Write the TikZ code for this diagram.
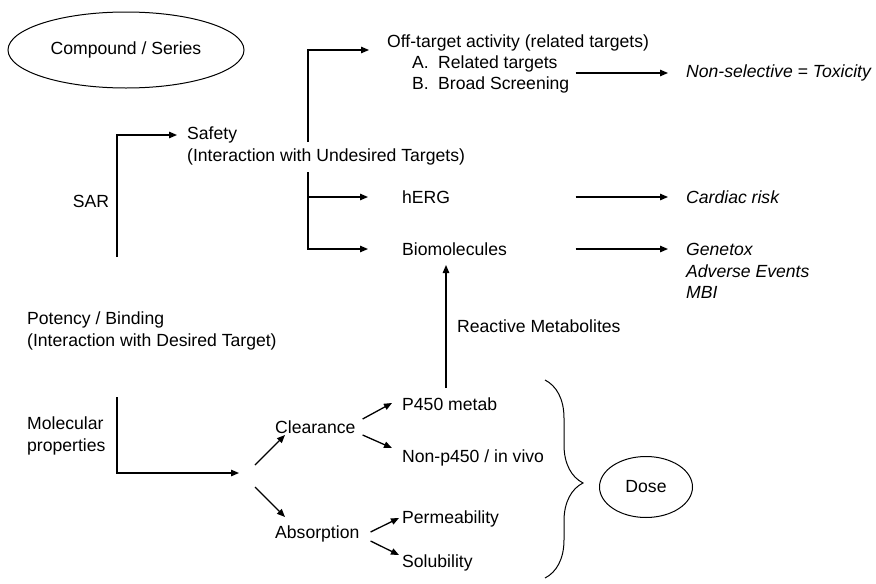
\documentclass[tikz,border=0pt]{standalone}
\usepackage{fontspec}
\setmainfont{Liberation Sans}
\usepackage{tikz}
\usetikzlibrary{arrows.meta,positioning,calc,shapes.geometric,decorations.pathreplacing}
\newcommand{\diagfont}{\fontsize{17.6}{21.5}\selectfont}

\begin{document}
\begin{tikzpicture}[
  x=1pt, y=-1pt,
  lbl/.style={anchor=west, inner sep=0pt, align=left, font=\diagfont},
  eff/.style={lbl, font=\diagfont\itshape},
  ov/.style={draw, ellipse, line width=1pt, inner sep=0pt, font=\diagfont},
  arr/.style={-{Triangle[length=8pt,width=6.5pt]}, line width=1.3pt},
  brc/.style={decorate, decoration={brace, amplitude=38pt, aspect=0.52}, line width=1pt}
]
  \useasboundingbox (0,0) rectangle (876,584);

  % top half: SAR -> safety
  \node[ov, minimum width=236pt, minimum height=76pt] (cmpd) at (126,50) {Compound / Series};
  \node[lbl] (safety) at (187,135) {Safety};
  \node[lbl] (undes) at (187,157) {(Interaction with Undesired Targets)};
  \node[lbl, anchor=center] (sar) at (91,201) {SAR};
  \node[lbl] (offt) at (387,43) {Off-target activity (related targets)};
  \node[lbl] (offlist) at (412,74.5) {\makebox[26pt][l]{A.}Related targets\\\makebox[26pt][l]{B.}Broad Screening};
  \node[lbl] (herg) at (402,197) {hERG};
  \node[lbl] (biomol) at (402,249) {Biomolecules};
  \node[eff] (tox) at (686,73) {Non-selective = Toxicity};
  \node[eff] (cardiac) at (686,197) {Cardiac risk};
  \node[eff] (events) at (686,271) {Genetox\\Adverse Events\\MBI};
  \node[lbl] (potency) at (27,331) {Potency / Binding\\(Interaction with Desired Target)};
  \node[lbl] (react) at (457,326) {Reactive Metabolites};

  % bottom half: properties -> dose
  \node[lbl] (molprop) at (27,436) {Molecular\\properties};
  \node[lbl] (clear) at (275,427) {Clearance};
  \node[lbl] (absorb) at (275,534) {Absorption};
  \node[lbl] (p450) at (402,404) {P450 metab};
  \node[lbl] (nonp) at (402,458) {Non-p450 / in vivo};
  \node[lbl] (perm) at (402,519) {Permeability};
  \node[lbl] (solub) at (402,563) {Solubility};
  \node[ov, minimum width=93pt, minimum height=61pt] (dose) at (646,487) {Dose};

  \coordinate (sarbot) at (117,257);
  \coordinate (tr1) at (308,142);
  \coordinate (tr2) at (308,172);
  \coordinate (moltop) at (117,397);
  \coordinate (split) at (250,476);
  \coordinate (brtop) at (545,380);
  \coordinate (brbot) at (545,578);

  \draw[arr] (sarbot) |- ([xshift=-10pt]safety.west);
  \draw[arr] (tr1) |- ($(offt.west)+(-18,7)$);
  \draw[arr] (tr2) |- ($(biomol.west)+(-34,0)$);
  \draw[arr] (tr2 |- herg.west) -- ($(herg.west)+(-34,0)$);
  \draw[arr] ($(tox.west -| offlist.east)+(6,0)$) -- ($(tox.west)+(-18,0)$);
  \draw[arr] ($(cardiac.west -| offlist.east)+(6,0)$) -- ($(cardiac.west)+(-18,0)$);
  \draw[arr] ($(biomol.west -| offlist.east)+(6,0)$) -- ($(biomol.west -| events.west)+(-18,0)$);
  \draw[arr] ($(p450.west)+(44,-16)$) -- ($(biomol.west)+(44,16)$);

  \draw[arr] (moltop) |- ($(split)+(-11,-3)$);
  \draw[arr] ($(split)+(5,-11)$) -- ($(clear.west)+(10,8)$);
  \draw[arr] ($(split)+(5,11)$) -- ($(absorb.west)+(10,-17)$);
  \draw[arr] ($(clear.east)+(7,-8)$) -- ($(p450.west)+(-10,-1)$);
  \draw[arr] ($(clear.east)+(7,8)$) -- ($(nonp.west)+(-10,-10)$);
  \draw[arr] ($(absorb.east)+(11,-2)$) -- ($(perm.west)+(-3,-1)$);
  \draw[arr] ($(absorb.east)+(11,7)$) -- ($(solub.west)+(-3,-8)$);

  \draw[brc] (brtop) -- (brbot);
\end{tikzpicture}
\end{document}
